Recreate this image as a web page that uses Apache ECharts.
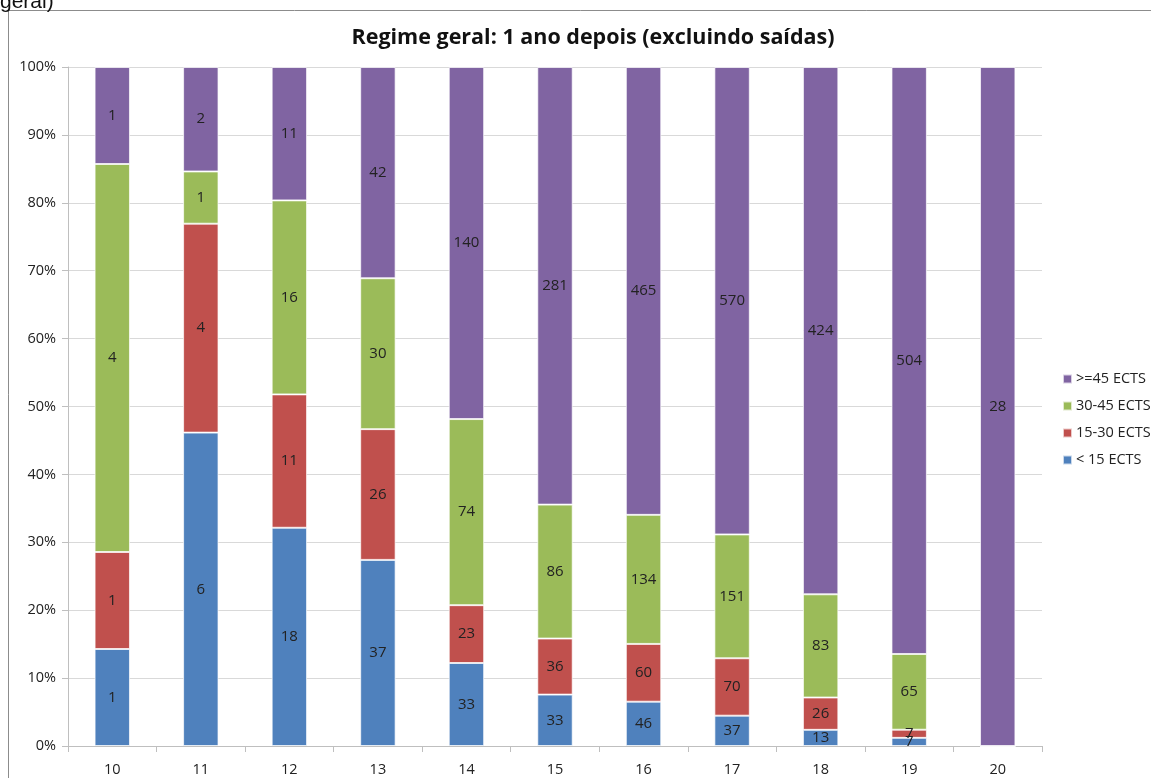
<!DOCTYPE html>
<html><head><meta charset="utf-8">
<script src="https://cdn.jsdelivr.net/npm/echarts@6/dist/echarts.min.js"></script>
<style>html,body{margin:0;padding:0;background:#fff;}#c{width:1151px;height:778px;}</style>
</head><body><div id="c"></div>
<script>
const categories = ['10','11','12','13','14','15','16','17','18','19','20'];
const lt15 = [1,6,18,37,33,33,46,37,13,7,0];
const s15_30 = [1,4,11,26,23,36,60,70,26,7,0];
const s30_45 = [4,1,16,30,74,86,134,151,83,65,0];
const ge45 = [1,2,11,42,140,281,465,570,424,504,28];
const seriesNames = ['< 15 ECTS','15-30 ECTS','30-45 ECTS','>=45 ECTS'];
const colors = ['#4F81BD','#C0504D','#9BBB59','#8064A2'];
const yTicks = [0,10,20,30,40,50,60,70,80,90,100];

const raw = [lt15, s15_30, s30_45, ge45];
const totals = categories.map((_, i) => raw.reduce((s, a) => s + a[i], 0));
const font = '"Open Sans", Lato, sans-serif';

const series = raw.map((arr, k) => ({
  name: seriesNames[k],
  type: 'bar',
  stack: 'all',
  barWidth: '40%',
  itemStyle: { color: colors[k], borderColor: 'rgba(255,255,255,0.7)', borderWidth: 1 },
  label: {
    show: true, position: 'inside', color: '#222', fontSize: 15, fontFamily: font,
    formatter: p => (arr[p.dataIndex] > 0 ? String(arr[p.dataIndex]) : '')
  },
  data: arr.map((v, i) => v / totals[i] * 100)
}));

const chart = echarts.init(document.getElementById('c'));
chart.setOption({
  animation: false,
  color: colors,
  title: {
    text: 'Regime geral: 1 ano depois (excluindo saídas)',
    left: 588, top: 22, textAlign: 'center',
    textStyle: { fontSize: 21.5, fontWeight: 'bold', color: '#111', fontFamily: font }
  },
  legend: {
    orient: 'vertical', left: 1057, top: 365, itemGap: 9, itemWidth: 9, itemHeight: 9,
    icon: 'rect',
    data: ['>=45 ECTS','30-45 ECTS','15-30 ECTS','< 15 ECTS'],
    textStyle: { fontSize: 14.5, lineHeight: 18, color: '#222', fontFamily: font, padding: [0,0,0,-1] }
  },
  grid: { left: 68, top: 67, width: 974, height: 679, containLabel: false },
  xAxis: {
    type: 'category', data: categories,
    axisLine: { lineStyle: { color: '#bfbfbf' } },
    axisTick: { show: true, alignWithLabel: false, length: 6, lineStyle: { color: '#bfbfbf' } },
    axisLabel: { color: '#222', fontSize: 14.5, fontFamily: font, margin: 16 }
  },
  yAxis: {
    type: 'value', min: 0, max: 100, interval: 10,
    axisLine: { show: true, lineStyle: { color: '#bfbfbf' } },
    axisTick: { show: true, inside: false, length: 6, lineStyle: { color: '#bfbfbf' } },
    splitLine: { lineStyle: { color: '#d9d9d9' } },
    axisLabel: { color: '#222', fontSize: 14.5, fontFamily: font, margin: 12,
      formatter: v => yTicks.includes(v) ? v + '%' : '' }
  },
  graphic: [
    { type: 'rect', shape: { x: 8.5, y: 10.5, width: 1200, height: 800 },
      style: { fill: 'none', stroke: '#8c8c8c', lineWidth: 1 }, silent: true },
    { type: 'text', left: 0, top: -8,
      style: { text: 'geral)', fontSize: 21, fontFamily: 'Liberation Sans, Arial, sans-serif', fill: '#111' } }
  ],
  series: series
});
</script></body></html>
